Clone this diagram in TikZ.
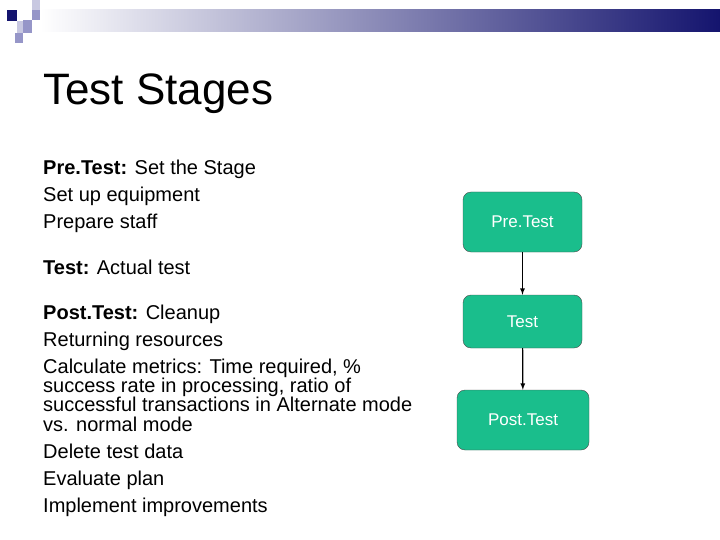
\documentclass[tikz,border=0pt]{standalone}
\usepackage{fontspec}
\setmainfont{Liberation Sans}
\definecolor{navy}{RGB}{20,20,110}
\definecolor{lilac}{RGB}{150,150,200}
\definecolor{pale}{RGB}{200,200,225}
\definecolor{stagegreen}{RGB}{26,190,140}
\tikzset{stage/.style={draw=black!70,fill=stagegreen,text=white,rounded corners=8pt,font=\fontsize{17}{20}\selectfont},
  line/.style={anchor=base west,inner sep=0pt,font=\fontsize{20}{23}\selectfont}}
\begin{document}
\begin{tikzpicture}[x=1pt,y=-1pt]
   \useasboundingbox (0,0) rectangle (720,540);
   % banner
   \shade[left color=white,right color=navy] (40,10) rectangle (720,32);
   \fill[pale]  (32,0) rectangle (40,10);
   \fill[lilac] (32,10) rectangle (40,20);
   \fill[navy]  (7,10) rectangle (17,21);
   \fill[pale]  (17,21) rectangle (23,33);
   \fill[lilac] (23,20) rectangle (32,33);
   \fill[lilac] (15,33) rectangle (23,43);
   \node (title) [line,font=\fontsize{44}{50}\selectfont] at (43,105) {Test Stages};
   % text
   \node (l1)  [line] at (43,175) {\textbf{Pre.Test:} Set the Stage};
   \node (l2)  [line] at (43,202) {Set up equipment};
   \node (l3)  [line] at (43,229) {Prepare staff};
   \node (l4)  [line] at (43,274) {\textbf{Test:} Actual test};
   \node (l5)  [line] at (43,319) {\textbf{Post.Test:} Cleanup};
   \node (l6)  [line] at (43,346) {Returning resources};
   \node (l7)  [line] at (43,373) {Calculate metrics: Time required, \%};
   \node (l8)  [line] at (43,392) {success rate in processing, ratio of};
   \node (l9)  [line] at (43,411) {successful transactions in Alternate mode};
   \node (l10) [line] at (43,431) {vs. normal mode};
   \node (l11) [line] at (43,458) {Delete test data};
   \node (l12) [line] at (43,485) {Evaluate plan};
   \node (l13) [line] at (43,512) {Implement improvements};
   % flow
   \node (pre)  [stage,minimum width=119pt,minimum height=60pt] at (522.5,222) {Pre.Test};
   \node (test) [stage,minimum width=119pt,minimum height=53pt] at (522.5,321.5) {Test};
   \node (post) [stage,minimum width=132pt,minimum height=60pt] at (523,420) {Post.Test};
   \draw[-latex,line width=1.2pt] (pre) -- (test);
   \draw[-latex,line width=1.2pt] (test) -- (post);
\end{tikzpicture}
\end{document}
